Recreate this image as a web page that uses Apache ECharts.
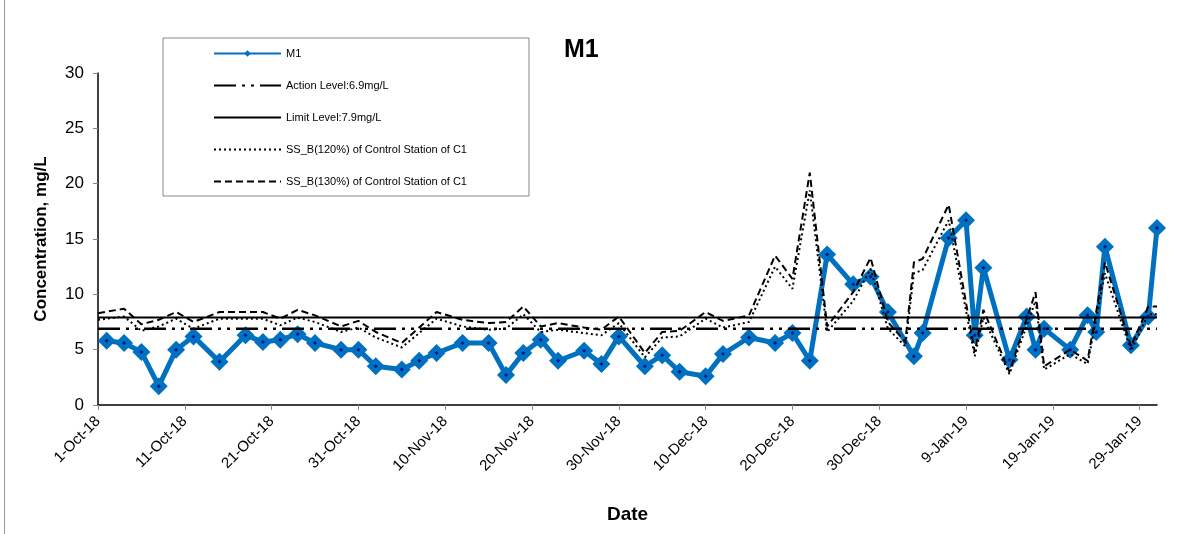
<!DOCTYPE html>
<html>
<head>
<meta charset="utf-8">
<title>M1</title>
<script src="https://cdn.jsdelivr.net/npm/echarts@6/dist/echarts.min.js"></script>
<style>
html,body{margin:0;padding:0;background:#fff;}
#first{width:1184px;height:534px;}
</style>
</head>
<body>
<div id="first"></div>
<script type="text/javascript">
// M1 readings
var m1Dates = ['2018-10-02','2018-10-04','2018-10-06','2018-10-08','2018-10-10','2018-10-12','2018-10-15','2018-10-18','2018-10-20','2018-10-22',
    '2018-10-24','2018-10-26','2018-10-29','2018-10-31','2018-11-02','2018-11-05','2018-11-07','2018-11-09','2018-11-12','2018-11-15',
    '2018-11-17','2018-11-19','2018-11-21','2018-11-23','2018-11-26','2018-11-28','2018-11-30','2018-12-03','2018-12-05','2018-12-07',
    '2018-12-10','2018-12-12','2018-12-15','2018-12-18','2018-12-20','2018-12-22','2018-12-24','2018-12-27','2018-12-29','2018-12-31',
    '2019-01-03','2019-01-04','2019-01-07','2019-01-09','2019-01-10','2019-01-11','2019-01-14','2019-01-16','2019-01-17','2019-01-18',
    '2019-01-21','2019-01-23','2019-01-24','2019-01-25','2019-01-28','2019-01-30','2019-01-31'];
var m1Values = [5.8,5.6,4.8,1.7,5.0,6.2,3.9,6.3,5.7,5.9,
    6.4,5.6,5.0,5.0,3.5,3.2,4.0,4.7,5.6,5.6,
    2.7,4.7,5.9,4.0,4.9,3.7,6.2,3.5,4.5,3.0,
    2.6,4.6,6.1,5.6,6.5,4.0,13.6,10.9,11.6,8.4,
    4.4,6.5,15.1,16.7,6.3,12.4,4.1,8.0,5.0,6.9,
    5.0,8.1,6.6,14.3,5.4,8.0,16.0];

// control station C1
var ctrlDates = ['2018-10-01','2018-10-04','2018-10-06','2018-10-08','2018-10-10','2018-10-12','2018-10-15','2018-10-18','2018-10-20','2018-10-22',
    '2018-10-24','2018-10-26','2018-10-29','2018-10-31','2018-11-02','2018-11-05','2018-11-07','2018-11-09','2018-11-12','2018-11-15',
    '2018-11-17','2018-11-19','2018-11-21','2018-11-23','2018-11-26','2018-11-28','2018-11-30','2018-12-03','2018-12-05','2018-12-07',
    '2018-12-10','2018-12-12','2018-12-15','2018-12-18','2018-12-20','2018-12-22','2018-12-24','2018-12-27','2018-12-29','2018-12-31',
    '2019-01-02','2019-01-03','2019-01-04','2019-01-07','2019-01-10','2019-01-11','2019-01-14','2019-01-17','2019-01-18','2019-01-21',
    '2019-01-23','2019-01-25','2019-01-28','2019-01-30','2019-01-31'];
var ss120Values = [7.7,8.0,6.7,7.1,7.8,6.9,7.8,7.8,7.8,7.2,
    7.9,7.5,6.6,7.0,6.1,5.2,6.5,7.8,7.1,6.8,
    6.9,8.2,6.6,6.8,6.5,6.3,7.4,4.3,6.1,6.2,
    7.8,7.0,7.5,12.5,10.5,19.4,6.6,9.4,12.3,6.9,
    5.3,11.9,12.2,16.7,4.4,7.9,2.8,9.4,3.2,4.6,
    3.7,11.9,4.9,8.2,8.2];
var ss130Values = [8.3,8.7,7.3,7.7,8.4,7.5,8.4,8.4,8.4,7.8,
    8.6,8.1,7.1,7.6,6.6,5.6,7.0,8.4,7.7,7.4,
    7.5,8.9,7.1,7.4,7.0,6.8,8.0,4.7,6.6,6.7,
    8.4,7.6,8.1,13.5,11.4,21.0,7.1,10.2,13.3,7.5,
    5.7,12.9,13.2,18.1,4.8,8.6,3.0,10.2,3.5,5.0,
    4.0,12.9,5.3,8.9,8.9];

var actionLevel = 6.9;
var limitLevel = 7.9;
var axisStart = '2018-10-01';
var axisEnd = '2019-01-31';

var names = ['M1', 'Action Level:6.9mg/L', 'Limit Level:7.9mg/L',
    'SS_B(120%) of Control Station of C1', 'SS_B(130%) of Control Station of C1'];

var DAY = 86400000;
function utc(s) {
    var p = s.split('-');
    return Date.UTC(+p[0], +p[1] - 1, +p[2]);
}
var t0 = utc(axisStart);
function dayOf(s) { return Math.round((utc(s) - t0) / DAY); }
function pairs(dates, vals) {
    var res = [];
    for (var i = 0; i < dates.length; i++) res.push([dayOf(dates[i]), vals[i]]);
    return res;
}
var lastDay = dayOf(axisEnd);
var xTicks = [];
for (var d = 0; d <= lastDay; d += 10) xTicks.push(d);

var mon = ['Jan','Feb','Mar','Apr','May','Jun','Jul','Aug','Sep','Oct','Nov','Dec'];
function dateLabel(v) {
    var dt = new Date(t0 + v * DAY);
    return dt.getUTCDate() + '-' + mon[dt.getUTCMonth()] + '-' + String(dt.getUTCFullYear()).slice(2);
}

// legend entries: hide the marker on the plain black lines
var legendData = names.map(function (n, i) {
    return i === 0 ? { name: n } : { name: n, itemStyle: { opacity: 0 } };
});

var myChart = echarts.init(document.getElementById('first'));
var m1Data = pairs(m1Dates, m1Values);

var option = {
    animation: false,
    backgroundColor: '#fff',
    textStyle: { fontFamily: 'Liberation Sans, Arial, sans-serif' },
    title: {
        text: 'M1',
        left: 559,
        top: 33,
        textStyle: { fontSize: 25, fontWeight: 'bold', color: '#000' }
    },
    grid: { left: 98, right: 27, top: 73, bottom: 129, containLabel: false },
    legend: {
        orient: 'vertical',
        left: 163,
        top: 38,
        padding: [10, 62, 9, 50],
        itemWidth: 67,
        itemHeight: 8,
        itemGap: 21,
        borderColor: '#888',
        borderWidth: 1,
        data: legendData,
        textStyle: { fontSize: 11, color: '#000' }
    },
    graphic: [{
        type: 'line',
        shape: { x1: 4.5, y1: 0, x2: 4.5, y2: 534 },
        style: { stroke: '#999', lineWidth: 1 }
    }],
    xAxis: {
        type: 'value',
        min: 0,
        max: lastDay,
        interval: 10,
        name: 'Date',
        nameLocation: 'middle',
        nameGap: 100,
        nameTextStyle: { fontSize: 19, fontWeight: 'bold', color: '#000' },
        splitLine: { show: false },
        axisLine: { onZero: false, lineStyle: { color: '#000', width: 1.5 } },
        axisTick: { customValues: xTicks, length: 5, lineStyle: { color: '#888' } },
        axisLabel: {
            customValues: xTicks,
            rotate: 45,
            fontSize: 15,
            color: '#000',
            margin: 14,
            formatter: dateLabel
        }
    },
    yAxis: {
        type: 'value',
        min: 0,
        max: 30,
        interval: 5,
        name: 'Concentration, mg/L',
        nameLocation: 'middle',
        nameGap: 48,
        nameTextStyle: { fontSize: 17, fontWeight: 'bold', color: '#000' },
        splitLine: { show: false },
        axisLine: { show: true, lineStyle: { color: '#000', width: 1.5 } },
        axisTick: { show: true, length: 5, lineStyle: { color: '#888' } },
        axisLabel: { fontSize: 17, color: '#000', margin: 14 }
    },
    series: [
        {
            name: names[0],
            type: 'line',
            data: m1Data,
            symbol: 'diamond',
            symbolSize: 18,
            lineStyle: { color: '#0070C0', width: 5 },
            itemStyle: { color: '#0070C0' },
            z: 2
        },
        {
            name: names[1],
            type: 'line',
            data: [[0, actionLevel], [lastDay, actionLevel]],
            symbol: 'none',
            lineStyle: { color: '#000', width: 2.5, type: [22, 6, 3, 6, 3, 6] },
            itemStyle: { color: '#000' },
            z: 3
        },
        {
            name: names[2],
            type: 'line',
            data: [[0, limitLevel], [lastDay, limitLevel]],
            symbol: 'none',
            lineStyle: { color: '#000', width: 2 },
            itemStyle: { color: '#000' },
            z: 3
        },
        {
            name: names[3],
            type: 'line',
            data: pairs(ctrlDates, ss120Values),
            symbol: 'none',
            lineStyle: { color: '#000', width: 2, type: [2, 3] },
            itemStyle: { color: '#000' },
            z: 3
        },
        {
            name: names[4],
            type: 'line',
            data: pairs(ctrlDates, ss130Values),
            symbol: 'none',
            lineStyle: { color: '#000', width: 2, type: [7, 4] },
            itemStyle: { color: '#000' },
            z: 3
        },
        {
            name: 'M1 centre',
            type: 'scatter',
            data: m1Data,
            symbol: 'diamond',
            symbolSize: 4,
            itemStyle: { color: '#000080' },
            silent: true,
            z: 5
        }
    ]
};
myChart.setOption(option);
</script>
</body>
</html>
